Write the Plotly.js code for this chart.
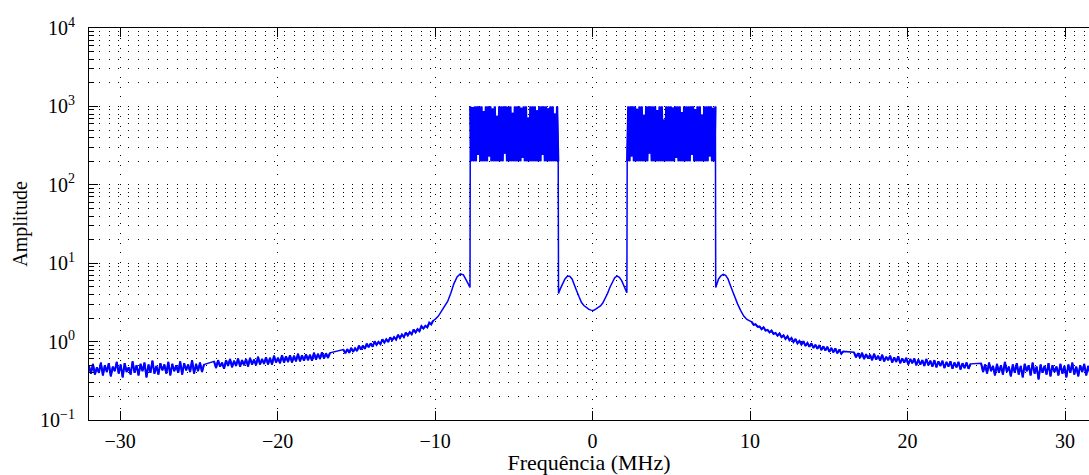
<!DOCTYPE html>
<html>
<head>
<meta charset="utf-8">
<script src="https://cdn.plot.ly/plotly-3.0.1.min.js"></script>
<style>
  html, body { margin: 0; padding: 0; background: #fff; overflow: hidden; }
  #chart { width: 1089px; height: 475px; }
</style>
</head>
<body>
<div id="chart"></div>
<script>
// ---- Data ----
// Frequency sample ranges (MHz) for the uniformly sampled noisy segments
const leftOuterRange  = [-31.97, -24.67];
const leftMidRange    = [-24.03, -16.67];
const leftInnerRange  = [-15.82, -10.12];
const leftBandRange   = [-7.76, -2.18];
const rightBandRange  = [2.20, 7.80];
const rightInnerRange = [10.10, 15.92];
const rightMidRange   = [16.60, 24.00];
const rightOuterRange = [24.67, 31.97];

// Amplitudes
const leftOuterAmp = [0.49,0.39,0.52,0.38,0.47,0.40,0.54,0.37,0.50,0.41,0.53,0.36,0.48,0.42,0.55,0.39,0.51,0.35,0.53,0.41,0.47,0.38,0.56,0.40,0.50,0.37,0.52,0.42,0.54,0.35,0.51,0.40,0.57,0.39,0.49,0.38,0.53,0.43,0.51,0.39,0.55,0.37,0.52,0.42,0.50,0.40,0.56,0.38,0.53,0.43,0.51,0.41,0.58,0.39,0.52,0.42,0.54,0.41,0.51];
const leftMidAmp = [0.56,0.46,0.58,0.48,0.54,0.45,0.58,0.49,0.60,0.47,0.57,0.49,0.61,0.48,0.58,0.50,0.60,0.48,0.62,0.51,0.59,0.50,0.64,0.51,0.60,0.52,0.63,0.51,0.62,0.51,0.66,0.54,0.62,0.53,0.67,0.54,0.65,0.55,0.67,0.54,0.66,0.56,0.70,0.56,0.67,0.57,0.69,0.58,0.68,0.57,0.72,0.59,0.70,0.60,0.73,0.61,0.71,0.62,0.72];
const leftInnerAmp = [0.79,0.71,0.80,0.72,0.83,0.74,0.82,0.76,0.89,0.79,0.89,0.81,0.94,0.85,0.95,0.86,1.01,0.91,0.99,0.93,1.07,0.97,1.07,0.99,1.13,1.04,1.14,1.06,1.22,1.11,1.23,1.14,1.30,1.20,1.32,1.24,1.42,1.31,1.44,1.36,1.57,1.47,1.59,1.52,1.74,1.66,1.85];
const leftLobeFreq = [-10.0,-9.8,-9.6,-9.4,-9.2,-9.0,-8.8,-8.6,-8.4,-8.2,-8.0,-7.9,-7.78];
const leftLobeAmp  = [1.92,2.10,2.40,2.75,3.25,4.15,5.50,6.70,7.30,7.10,6.10,5.50,4.90];
const leftBandAmp = [1000,200,980,200,1000,200,1000,240,1000,200,1000,200,870,200,1000,200,1000,230,1000,200,940,200,1000,200,760,200,1000,200,1000,200,1000,250,1000,200,990,200,1000,200,830,200,1000,200,1000,200,1000,200,960,220,1000,200,1000,200,720,200,1000,200,1000,200,1000,200,890,200,1000,200,1000,240,1000,200,1000,200,950,200,1000,200,1000,200,810,200,1000,200];
const centerFreq = [-2.16,-2.05,-1.9,-1.75,-1.6,-1.45,-1.3,-1.15,-1.0,-0.85,-0.7,-0.55,-0.4,-0.25,-0.1,0.05,0.2,0.35,0.5,0.65,0.8,0.95,1.1,1.25,1.4,1.55,1.7,1.85,2.0,2.1,2.18];
const centerAmp  = [4.10,4.70,5.60,6.30,6.80,6.80,6.30,5.40,4.40,3.70,3.15,2.88,2.70,2.60,2.52,2.50,2.60,2.72,2.85,3.10,3.50,4.10,4.90,5.80,6.50,6.90,6.60,6.00,5.10,4.50,4.20];
const rightBandAmp = [200,1000,200,1000,230,1000,200,1000,200,930,200,1000,200,1000,200,780,200,1000,200,1000,250,1000,200,1000,200,1000,200,900,200,1000,200,1000,200,680,200,1000,200,1000,200,1000,200,970,200,1000,220,1000,200,1000,200,850,200,1000,200,1000,200,1000,200,1000,240,1000,200,920,200,1000,200,1000,200,790,200,1000,200,1000,200,1000,230,1000,200,960,200,1000];
const rightLobeFreq = [7.82,7.9,8.0,8.15,8.3,8.45,8.6,8.8,9.0,9.2,9.4,9.6,9.8,10.0];
const rightLobeAmp  = [4.90,5.60,6.30,6.90,7.20,7.00,6.30,4.90,3.80,3.05,2.50,2.12,1.92,1.80];
const rightInnerAmp = [1.79,1.64,1.66,1.55,1.56,1.44,1.52,1.38,1.41,1.31,1.38,1.25,1.29,1.19,1.27,1.14,1.20,1.08,1.17,1.04,1.11,0.99,1.08,0.95,1.02,0.92,1.01,0.88,0.96,0.86,0.95,0.83,0.91,0.81,0.90,0.78,0.87,0.77,0.86,0.74,0.83,0.73,0.82,0.71,0.79,0.70,0.75];
const rightMidAmp = [0.73,0.63,0.71,0.62,0.72,0.60,0.69,0.61,0.68,0.58,0.70,0.59,0.66,0.57,0.68,0.56,0.64,0.58,0.66,0.54,0.63,0.55,0.65,0.53,0.61,0.54,0.62,0.51,0.60,0.53,0.61,0.50,0.59,0.51,0.58,0.49,0.60,0.50,0.57,0.48,0.58,0.47,0.56,0.49,0.57,0.46,0.55,0.48,0.56,0.45,0.54,0.47,0.55,0.44,0.53,0.46,0.54,0.45,0.52];
const rightOuterAmp = [0.53,0.41,0.51,0.39,0.54,0.42,0.49,0.37,0.52,0.40,0.50,0.38,0.55,0.41,0.48,0.36,0.51,0.40,0.53,0.38,0.49,0.35,0.52,0.42,0.50,0.37,0.54,0.39,0.48,0.33,0.51,0.40,0.49,0.38,0.53,0.36,0.50,0.41,0.48,0.37,0.52,0.39,0.49,0.35,0.51,0.40,0.54,0.38,0.48,0.36,0.50,0.41,0.52,0.37,0.49,0.39,0.51,0.38,0.48];

// Axis ticks
const xTickVals = [-30, -20, -10, 0, 10, 20, 30];
const yTickVals = [0.1, 1, 10, 100, 1000, 10000];
const yTickText = ['10<sup>\u22121</sup>','10<sup>0</sup>','10<sup>1</sup>','10<sup>2</sup>','10<sup>3</sup>','10<sup>4</sup>'];
const xTitle = 'Frequência (MHz)';
const yTitle = 'Amplitude';

// ---- Build the traces ----
function sampleGrid(range, n) {
  const out = [];
  for (let i = 0; i < n; i++) out.push(range[0] + (range[1] - range[0]) * i / (n - 1));
  return out;
}
const segments = [
  { x: sampleGrid(leftOuterRange, leftOuterAmp.length),   y: leftOuterAmp,  kind: 'noise' },
  { x: sampleGrid(leftMidRange, leftMidAmp.length),       y: leftMidAmp,    kind: 'noise' },
  { x: sampleGrid(leftInnerRange, leftInnerAmp.length),   y: leftInnerAmp,  kind: 'noise' },
  { x: leftLobeFreq,                                      y: leftLobeAmp,   kind: 'lobe' },
  { x: sampleGrid(leftBandRange, leftBandAmp.length),     y: leftBandAmp,   kind: 'band' },
  { x: centerFreq,                                        y: centerAmp,     kind: 'lobe' },
  { x: sampleGrid(rightBandRange, rightBandAmp.length),   y: rightBandAmp,  kind: 'band' },
  { x: rightLobeFreq,                                     y: rightLobeAmp,  kind: 'lobe' },
  { x: sampleGrid(rightInnerRange, rightInnerAmp.length), y: rightInnerAmp, kind: 'noise' },
  { x: sampleGrid(rightMidRange, rightMidAmp.length),     y: rightMidAmp,   kind: 'noise' },
  { x: sampleGrid(rightOuterRange, rightOuterAmp.length), y: rightOuterAmp, kind: 'noise' }
];

const BLUE = '#0000ff';
const X = [], Y = [];
segments.forEach(s => { X.push(...s.x); Y.push(...s.y); });
const traces = [{ x: X, y: Y, type: 'scatter', mode: 'lines', line: { color: BLUE, width: 1.5 }, hoverinfo: 'skip' }];
// Dense parts of the spectrum drawn with a heavier stroke (same samples)
segments.forEach(s => {
  if (s.kind === 'lobe') return;
  traces.push({ x: s.x, y: s.y, type: 'scatter', mode: 'lines',
    line: { color: BLUE, width: s.kind === 'band' ? 2.3 : 2 }, hoverinfo: 'skip' });
});

const yMinorVals = [];
for (let e = -1; e < 4; e++) for (let d = 2; d <= 9; d++) yMinorVals.push(d * Math.pow(10, e));

const FONT = 'Liberation Serif, Times New Roman, serif';
const DOT = '1px,8.75px';

const layout = {
  width: 1089, height: 475,
  margin: { l: 89, r: 0, t: 28, b: 55 },
  paper_bgcolor: '#ffffff', plot_bgcolor: '#ffffff',
  showlegend: false,
  font: { family: FONT, size: 20, color: '#000' },
  xaxis: {
    range: [-31.97, 31.52],
    tickmode: 'array', tickvals: xTickVals,
    ticks: 'inside', ticklen: 9, tickwidth: 1, tickcolor: '#000',
    showline: true, linecolor: '#000', linewidth: 1, mirror: 'ticks',
    showgrid: true, gridcolor: '#000', gridwidth: 1, griddash: DOT,
    zeroline: false,
    ticklabelstandoff: 3,
    tickfont: { family: FONT, size: 20, color: '#000' },
    title: { text: xTitle, font: { family: FONT, size: 22, color: '#000' }, standoff: 6 },
    automargin: false
  },
  yaxis: {
    type: 'log', range: [-1, 4],
    tickmode: 'array', tickvals: yTickVals, ticktext: yTickText,
    ticks: 'inside', ticklen: 9, tickwidth: 1, tickcolor: '#000',
    showline: true, linecolor: '#000', linewidth: 1,
    showgrid: true, gridcolor: '#000', gridwidth: 1, griddash: DOT,
    zeroline: false,
    ticklabelstandoff: 9,
    tickfont: { family: FONT, size: 20, color: '#000' },
    minor: {
      tickmode: 'array', tickvals: yMinorVals,
      ticks: 'inside', ticklen: 5, tickwidth: 1, tickcolor: '#000',
      showgrid: true, gridcolor: '#000', gridwidth: 1, griddash: DOT
    },
    title: { text: yTitle, font: { family: FONT, size: 20, color: '#000' }, standoff: 7 },
    automargin: false
  }
};

Plotly.newPlot('chart', traces, layout, { staticPlot: true, displayModeBar: false });
</script>
</body>
</html>
